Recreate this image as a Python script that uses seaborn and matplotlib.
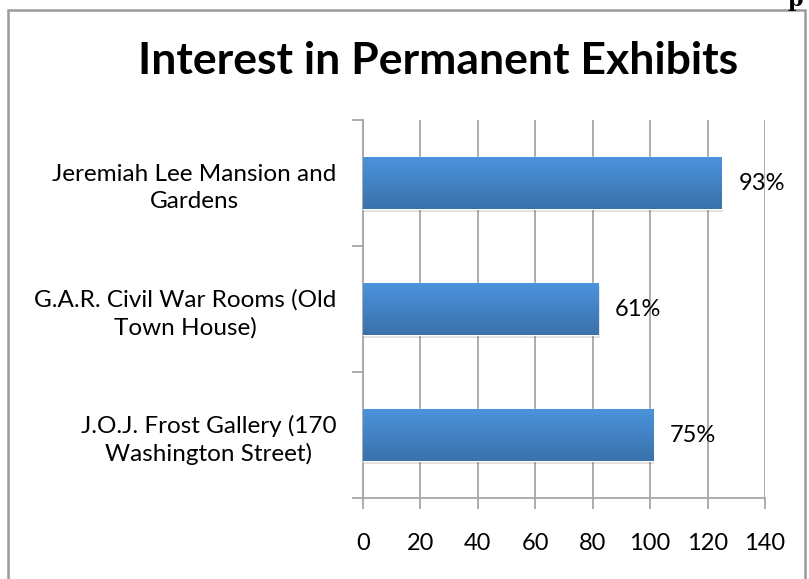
import numpy as np
import pandas as pd
import seaborn as sns
import matplotlib.pyplot as plt
from matplotlib.patches import Rectangle
from matplotlib.colors import LinearSegmentedColormap

# Veriler
exhibits = [
    "Jeremiah Lee Mansion and\nGardens",
    "G.A.R. Civil War Rooms (Old\nTown House)",
    "J.O.J. Frost Gallery (170\nWashington Street)",
]
counts = [125, 82, 101]
percent_labels = ["93%", "61%", "75%"]
x_ticks = [0, 20, 40, 60, 80, 100, 120, 140]

df = pd.DataFrame({"Exhibit": exhibits, "Count": counts})

sns.set_style("white")
plt.rcParams["font.family"] = ["Lato", "DejaVu Sans"]
plt.rcParams["text.color"] = "black"

fig = plt.figure(figsize=(8.09, 5.79), dpi=100)
ax = fig.add_axes([0.4487, 0.1399, 0.4969, 0.6528])

sns.barplot(data=df, x="Count", y="Exhibit", orient="h", color="#4A8ED6",
            width=0.41, ax=ax, zorder=3)

# gradient + soft shadow on bars
grad = LinearSegmentedColormap.from_list("g", ["#4B93DC", "#3A71AB"])
for p in ax.patches:
    x0, y0 = p.get_x(), p.get_y()
    w, h = p.get_width(), p.get_height()
    sh = Rectangle((x0 + 0.5, y0 + 0.025), w, h, color="#000000", alpha=0.12,
                   zorder=2, linewidth=0)
    ax.add_patch(sh)
    im = ax.imshow(np.linspace(0, 1, 100).reshape(-1, 1), cmap=grad, aspect="auto",
                   extent=(x0, x0 + w, y0 + h, y0), zorder=3.5)
    im.set_clip_path(p)

ax.set_xlim(0, 140)
ax.set_ylim(2.5, -0.5)
ax.set_xticks(x_ticks)
ax.set_xticklabels([str(t) for t in x_ticks], fontsize=17, color="black")
ax.set_yticks([0, 1, 2])
ax.set_yticklabels(exhibits, fontsize=17.5, multialignment="center",
                   linespacing=1.35, color="black")
ax.set_yticks([-0.5, 0.5, 1.5, 2.5], minor=True)
ax.tick_params(axis="y", which="major", left=True, length=0, pad=19)
ax.tick_params(axis="y", which="minor", left=True, length=8, width=1.3, color="#A6A6A6")
ax.tick_params(axis="x", bottom=True, length=8, width=1.3, color="#A6A6A6", pad=17)
ax.set_xlabel("")
ax.set_ylabel("")

ax.grid(axis="x", color="#A6A6A6", linewidth=1.3, zorder=0)
ax.set_axisbelow(True)
for s in ["top", "right"]:
    ax.spines[s].set_visible(False)
for s in ["left", "bottom"]:
    ax.spines[s].set_color("#A6A6A6")
    ax.spines[s].set_linewidth(1.3)

ax.bar_label(ax.containers[0], labels=percent_labels, padding=12, fontsize=17)

fig.text(0.541, 0.895, "Interest in Permanent Exhibits", ha="center", va="center",
         fontsize=32, fontweight="bold")

# chart frame
fig.patches.append(Rectangle((0.0099, -0.05), 0.985, 1.0327, transform=fig.transFigure,
                             fill=False, edgecolor="#9A9A9A", linewidth=1.8))
fig.text(0.983, 1.0, "p", ha="center", va="center", fontsize=16, fontweight="bold",
         family="DejaVu Serif")

fig.savefig("out.png", dpi=100)
